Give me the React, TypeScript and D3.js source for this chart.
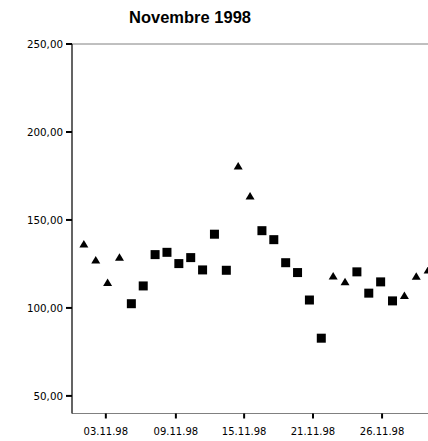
import React from "react";
import * as d3 from "d3";

const title = "Novembre 1998";
const days = [1,2,3,4,5,6,7,8,9,10,11,12,13,14,15,16,17,18,19,20,21,22,23,24,25,26,27,28,29,30];
const values = [136.4,127.3,114.4,128.8,102.4,112.5,130.3,131.6,125.2,128.6,121.6,141.9,121.4,180.7,163.6,143.9,138.8,125.7,120.1,104.5,82.8,118.2,114.9,120.5,108.4,114.8,104.0,107.0,118.0,121.6];
const shapes = ["tri","tri","tri","tri","sq","sq","sq","sq","sq","sq","sq","sq","sq","tri","tri","sq","sq","sq","sq","sq","sq","tri","tri","sq","sq","sq","sq","tri","tri","tri"];
const yTicks = [50, 100, 150, 200, 250];
const xTickDays = [2.85, 8.75, 14.5, 20.3, 26.12];
const xTickLabels = ["03.11.98", "09.11.98", "15.11.98", "21.11.98", "26.11.98"];

const W = 428, H = 441;
const left = 72, right = 440, top = 44, bottom = 413.5;

export default function App() {
  const x = d3.scaleLinear().domain([0, 31]).range([left, right]);
  const y = d3.scaleLinear().domain([40, 250]).range([bottom, top]);
  const fmt = (v: number) => v.toFixed(2).replace(".", ",");
  const font = "'DejaVu Sans', Verdana, sans-serif";
  return (
    <svg width={W} height={H} style={{ position: "absolute", left: 0, top: 0, background: "#fff" }}>
      <rect width={W} height={H} fill="#fff" />
      <text x={190} y={23} textAnchor="middle" fontFamily="'Liberation Sans', Arial, sans-serif" fontWeight="bold" fontSize={16.5} fill="#000">{title}</text>
      {/* frame */}
      <line x1={left} x2={right} y1={top} y2={top} stroke="#808080" strokeWidth={1} />
      <line x1={left} x2={right} y1={bottom} y2={bottom} stroke="#808080" strokeWidth={1} />
      <line x1={left} x2={left} y1={top} y2={bottom} stroke="#303030" strokeWidth={1.5} />
      {yTicks.map((t) => (
        <g key={t}>
          <line x1={left - 6} x2={left} y1={y(t)} y2={y(t)} stroke="#000" strokeWidth={2} />
          <text x={left - 9} y={y(t)} dy="0.35em" textAnchor="end" fontFamily={font} fontSize={10.3} fill="#000">{fmt(t)}</text>
        </g>
      ))}
      {xTickDays.map((d, i) => (
        <g key={i}>
          <line x1={x(d)} x2={x(d)} y1={bottom} y2={bottom + 5} stroke="#000" strokeWidth={2} />
          <text x={x(d)} y={435} textAnchor="middle" fontFamily={font} fontSize={10} fill="#000">{xTickLabels[i]}</text>
        </g>
      ))}
      {days.map((d, i) => {
        const cx = x(d), cy = y(values[i]);
        if (shapes[i] === "sq") {
          return <rect key={i} x={cx - 4.5} y={cy - 4.5} width={9} height={9} fill="#000" />;
        }
        const p = d3.path();
        p.moveTo(cx, cy - 4);
        p.lineTo(cx + 4.5, cy + 3.5);
        p.lineTo(cx - 4.5, cy + 3.5);
        p.closePath();
        return <path key={i} d={p.toString()} fill="#000" />;
      })}
    </svg>
  );
}
